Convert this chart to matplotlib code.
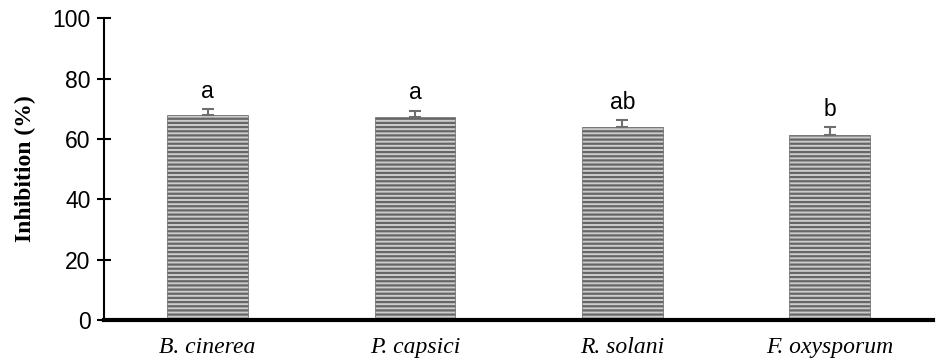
import matplotlib
matplotlib.use("Agg")
import matplotlib.pyplot as plt
import numpy as np

# data
pathogens = ["B. cinerea", "P. capsici", "R. solani", "F. oxysporum"]
inhibition = [67.9, 67.4, 64.0, 61.2]
sd = [1.9, 2.0, 2.2, 2.8]
letters = ["a", "a", "ab", "b"]

plt.rcParams['hatch.linewidth'] = 1.6

fig = plt.figure(figsize=(9.37, 3.63), dpi=100)
ax = fig.add_axes([0.111, 0.1185, 0.885, 0.8315])

x = np.arange(len(pathogens))
ax.bar(x, inhibition, width=0.39, color='#cccccc', edgecolor='#666666',
       linewidth=0.5, hatch='----', zorder=2)
ax.errorbar(x, inhibition, yerr=[[0] * len(sd), sd], fmt='none',
            ecolor='#6e6e6e', elinewidth=1.5, capsize=4.5, capthick=1.5, zorder=3)

for xi, v, e, lab in zip(x, inhibition, sd, letters):
    ax.annotate(lab, (xi, v + e), xytext=(0, 4.5), textcoords='offset points',
                ha='center', va='bottom', fontsize=16.5, family='Liberation Sans')

ax.set_xlim(-0.5, 3.5)
ax.set_ylim(0, 100)
ax.set_yticks([0, 20, 40, 60, 80, 100])
ax.set_xticks(x)
ax.set_xticklabels(pathogens, family='Liberation Serif', style='italic', fontsize=17)
for t in ax.get_yticklabels():
    t.set_family('Liberation Sans')
    t.set_fontsize(16.5)
ax.tick_params(axis='y', direction='inout', length=9.5, width=1.5, pad=5)
ax.tick_params(axis='x', length=0, pad=12)

ax.set_ylabel("Inhibition (%)", family='Liberation Serif', fontweight='bold',
              fontsize=17, labelpad=12)

ax.spines['top'].set_visible(False)
ax.spines['right'].set_visible(False)
ax.spines['left'].set_linewidth(1.5)
ax.spines['bottom'].set_linewidth(3)

fig.savefig("out.png", dpi=100)
